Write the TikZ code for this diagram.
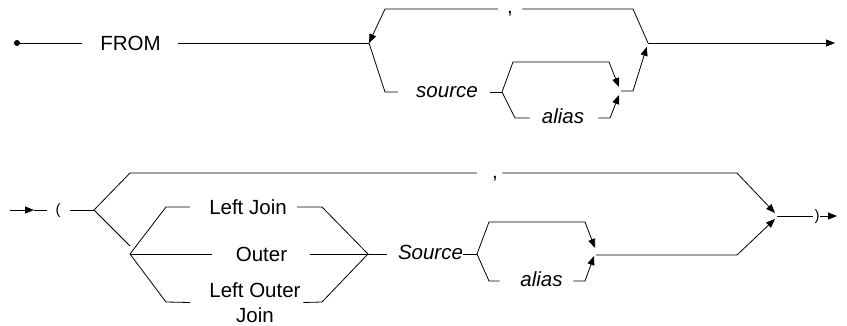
\documentclass[tikz,border=0pt]{standalone}
\usepackage{fontspec}
\setmainfont{Liberation Sans}
\usetikzlibrary{arrows.meta,calc}
\begin{document}
\begin{tikzpicture}[x=1pt,y=-1pt,line width=0.8pt,
  arr/.style={-{Triangle[length=9pt,width=7pt]}},
  lbl/.style={inner sep=0pt,font=\fontsize{20.5}{25}\selectfont},
  captxt/.style={lbl,text height=14.7pt,text depth=0pt},
  lowtxt/.style={lbl,text height=10.7pt,text depth=0pt},
  punct/.style={lbl,anchor=base},
  paren/.style={inner sep=0pt,font=\fontsize{15}{18}\selectfont,text height=9pt,text depth=0pt}]
\useasboundingbox (0,0) rectangle (847,325);

% ---------- top row ----------
\coordinate (t0) at (17,43);
\coordinate (G) at (369,43);
\coordinate (H) at (648,43);
\coordinate (tend) at (835,43);
\coordinate (u1) at (633,9);
\coordinate (u2) at (385,9);
\coordinate (s1) at (385,92);
\coordinate (I) at (502,92);
\coordinate (i1) at (513,62);
\coordinate (i2) at (609,62);
\coordinate (Ja) at (619,87);
\coordinate (i3) at (515,118);
\coordinate (i4) at (610,118);
\coordinate (Jb) at (619,95);
\coordinate (J) at (621,91);
\coordinate (j1) at (633,91);

\node[captxt] (from) at (130.5,43) {FROM};
\node[punct] (c1) at (510,13.5) {,};
\node[lowtxt] (src1) at (447,92) {\itshape source};
\node[lowtxt] (al1) at (563,118) {\itshape alias};

\fill (t0) circle (3pt);
\draw (t0) -- ([xshift=-18pt]from.west);
\draw ([xshift=17pt]from.east) -- (G);
\draw[arr] (H) -- (tend);
\draw (H) -- (u1) -- ($(c1.east |- u1)+(9,0)$);
\draw[arr] ($(c1.west |- u2)+(-9,0)$) -- (u2) -- (G);
\draw (G) -- (s1) -- ([xshift=-18pt]src1.west);
\draw ([xshift=12pt]src1.east) -- (I);
\draw[arr] (I) -- (i1) -- (i2) -- (Ja);
\draw (I) -- (i3) -- ([xshift=-12pt]al1.west);
\draw[arr] ([xshift=14pt]al1.east) -- (i4) -- (Jb);
\draw[arr,shorten >=4pt] (J) -- (j1) -- (H);

% ---------- bottom row ----------
\coordinate (b0) at (10,210);
\coordinate (b1) at (34,210);
\coordinate (A) at (94,210);
\coordinate (a1) at (130,173);
\coordinate (a2) at (737,173);
\coordinate (Fa) at (775,213);
\coordinate (a3) at (130,246);
\coordinate (B) at (130,254);
\coordinate (b2) at (166,207);
\coordinate (b3) at (166,302);
\coordinate (c3) at (322,207);
\coordinate (c4) at (322,302);
\coordinate (C) at (368,254);
\coordinate (D) at (477,254);
\coordinate (d1) at (489,222);
\coordinate (d2) at (585,222);
\coordinate (Ea) at (595,248);
\coordinate (d3) at (489,281);
\coordinate (d4) at (585,281);
\coordinate (Eb) at (594,256);
\coordinate (E) at (596,255);
\coordinate (e1) at (737,255);
\coordinate (Fb) at (775,219);
\coordinate (F) at (777,216);
\coordinate (bend) at (837,216);

\node[paren] (lp) at (58,210) {(};
\node[punct] (c2) at (495,178) {,};
\node[captxt] (lj) at (248,207) {Left Join};
\node[captxt] (ou) at (261.5,254) {Outer};
\node[lbl,align=center] (lo) at (255,302.5) {Left Outer\\Join};
\node[lowtxt] (S) at (430.5,254) {\itshape Source};
\node[lowtxt] (al2) at (541.5,281) {\itshape alias};
\node[paren] (rp) at (817,216) {)};

\draw[arr] (b0) -- (b1);
\draw (b1) -- ([xshift=-8.5pt]lp.west);
\draw ([xshift=9.5pt]lp.east) -- (A);
\draw (A) -- (a1) -- ($(c2.west |- a1)+(-15,0)$);
\draw[arr] ($(c2.east |- a2)+(4,0)$) -- (a2) -- (Fa);
\draw (A) -- (a3);
\draw (B) -- (b2) -- ([xshift=-19pt]lj.west);
\draw ([xshift=10pt]lj.east) -- (c3) -- (C);
\draw (B) -- ([xshift=-23pt]ou.west);
\draw ([xshift=22pt]ou.east) -- (C);
\draw (B) -- (b3) -- ([xshift=-19pt]lo.west);
\draw ([xshift=2.5pt]lo.east) -- (c4) -- (C);
\draw (C) -- ([xshift=-11pt]S.west);
\draw (S.east) -- (D);
\draw[arr] (D) -- (d1) -- (d2) -- (Ea);
\draw (D) -- (d3) -- ([xshift=-20.5pt]al2.west);
\draw[arr] ([xshift=10.5pt]al2.east) -- (d4) -- (Eb);
\draw[arr] (E) -- (e1) -- (Fb);
\draw (F) -- ([xshift=-1.5pt]rp.west);
\draw[arr] ([xshift=0.5pt]rp.east) -- (bend);
\end{tikzpicture}
\end{document}
